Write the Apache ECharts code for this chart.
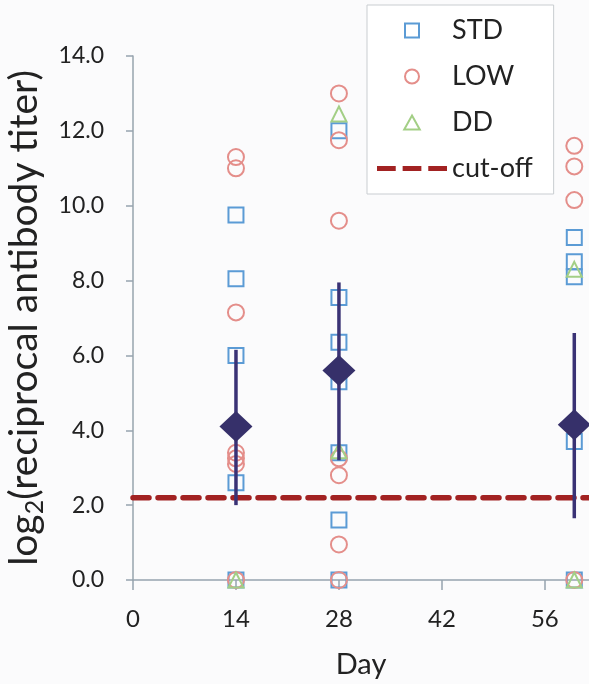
<!DOCTYPE html>
<html>
<head>
<meta charset="utf-8">
<script src="https://cdn.jsdelivr.net/npm/echarts@6/dist/echarts.min.js"></script>
<style>
    html, body { margin: 0; padding: 0; background: #fbfbfc; }
    #chart { width: 589px; height: 684px; }
</style>
</head>
<body>
<div id="chart"></div>
<script>
// individual titers per group, as [day, log2 titer]
const stdPoints = [
    [14, 9.75], [14, 8.05], [14, 6.0], [14, 2.6], [14, 0],
    [28, 12.0], [28, 7.55], [28, 6.35], [28, 5.3], [28, 3.4], [28, 1.6], [28, 0],
    [60, 9.15], [60, 8.5], [60, 8.1], [60, 3.7], [60, 0]
];
const lowPoints = [
    [14, 11.3], [14, 11.0], [14, 7.15], [14, 3.4], [14, 3.25], [14, 3.1], [14, 0],
    [28, 13.0], [28, 11.75], [28, 9.6], [28, 3.25], [28, 2.8], [28, 0.95], [28, 0],
    [60, 11.6], [60, 11.05], [60, 10.15], [60, 0]
];
const ddPoints = [
    [14, 0],
    [28, 12.45], [28, 3.45],
    [60, 8.3], [60, 0]
];
// mean with error bar
const meanDays = [14, 28, 60];
const meanValues = [4.1, 5.6, 4.15];
const barLow = [2.0, 3.2, 1.65];
const barHigh = [6.15, 7.95, 6.6];
const cutoff = 2.2;
const xTicks = [0, 14, 28, 42, 56];

const font = 'Lato, "Open Sans", sans-serif';
const axisColor = '#97a4ae';
const cutColor = '#a22222';

let chart = echarts.init(document.getElementById('chart'));

let meanData = meanDays.map((d, i) => [d, meanValues[i]]);
let errData = meanDays.map((d, i) => [d, barLow[i], barHigh[i]]);

let options = {
    backgroundColor: '#fbfbfc',
    animation: false,
    grid: {
        left: 133,
        right: 0,
        top: 56,
        bottom: 104,
        containLabel: false,
        outerBoundsMode: 'none'
    },
    legend: {
        orient: 'vertical',
        left: 367,
        top: 5,
        padding: [12, 21, 12, 10],
        itemGap: 19,
        itemWidth: 70,
        itemHeight: 14,
        itemTextGap: 6,
        borderColor: '#c9cdd1',
        borderWidth: 1,
        backgroundColor: '#ffffff',
        textStyle: { fontFamily: font, fontSize: 27, color: '#222' },
        data: [
            { name: 'STD', icon: 'path://M0,0L10,0L10,10L0,10Z' },
            { name: 'LOW', icon: 'path://M0,5A5,5 0 1,1 10,5A5,5 0 1,1 0,5Z' },
            { name: 'DD', icon: 'path://M5,0L10,9L0,9Z' },
            {
                name: 'cut-off',
                icon: 'path://M0,0L19,0L19,5L0,5Z M26,0L45,0L45,5L26,5Z M52,0L71,0L71,5L52,5Z',
                itemStyle: { color: cutColor, borderWidth: 0 }
            }
        ]
    },
    xAxis: {
        type: 'value',
        min: 0,
        max: 62,
        name: 'Day',
        nameLocation: 'middle',
        nameGap: 70,
        nameTextStyle: { fontFamily: font, fontSize: 29, color: '#222' },
        axisLine: { lineStyle: { color: axisColor, width: 1.5 } },
        axisTick: { show: true, inside: false, length: 10, customValues: xTicks, lineStyle: { color: axisColor, width: 1.5 } },
        axisLabel: { customValues: xTicks, margin: 27, fontFamily: font, fontSize: 24, color: '#222' },
        splitLine: { show: false }
    },
    yAxis: {
        type: 'value',
        min: 0,
        max: 14,
        interval: 2,
        name: '{a|log}{s|2}{a|(reciprocal antibody titer)}',
        nameLocation: 'middle',
        nameGap: 80,
        nameTextStyle: {
            rich: {
                a: { fontFamily: font, fontSize: 39, color: '#222', lineHeight: 46 },
                s: { fontFamily: font, fontSize: 25, color: '#222', lineHeight: 46, verticalAlign: 'bottom' }
            }
        },
        axisLine: { show: true, lineStyle: { color: axisColor, width: 1.5 } },
        axisTick: { show: true, length: 7, lineStyle: { color: axisColor, width: 1.5 } },
        axisLabel: {
            margin: 29,
            fontFamily: font,
            fontSize: 23,
            color: '#222',
            formatter: v => v.toFixed(1)
        },
        splitLine: { show: false }
    },
    series: [
        {
            name: 'cut-off',
            type: 'line',
            symbol: 'none',
            data: [[0, cutoff], [62, cutoff]],
            lineStyle: { color: cutColor, width: 5.5, type: [16, 9], cap: 'round' },
            itemStyle: { color: cutColor },
            z: 1
        },
        {
            name: 'error',
            type: 'custom',
            data: errData,
            renderItem: (params, api) => {
                let top = api.coord([api.value(0), api.value(2)]);
                let bottom = api.coord([api.value(0), api.value(1)]);
                return {
                    type: 'line',
                    shape: { x1: top[0], y1: top[1], x2: bottom[0], y2: bottom[1] },
                    style: { stroke: '#3a3275', lineWidth: 3.5 }
                };
            },
            z: 3
        },
        {
            name: 'STD',
            type: 'scatter',
            symbol: 'rect',
            symbolSize: 15,
            data: stdPoints,
            itemStyle: { color: 'transparent', borderColor: '#5b9bd5', borderWidth: 2, opacity: 1 },
            z: 2
        },
        {
            name: 'LOW',
            type: 'scatter',
            symbol: 'circle',
            symbolSize: 16,
            data: lowPoints,
            itemStyle: { color: 'transparent', borderColor: '#e48e8a', borderWidth: 2, opacity: 1 },
            z: 2
        },
        {
            name: 'DD',
            type: 'scatter',
            symbol: 'triangle',
            symbolSize: 15,
            data: ddPoints,
            itemStyle: { color: 'transparent', borderColor: '#a3cf86', borderWidth: 2, opacity: 1 },
            z: 2
        },
        {
            name: 'mean',
            type: 'scatter',
            symbol: 'diamond',
            symbolSize: [33, 31],
            data: meanData,
            itemStyle: { color: '#36306a', opacity: 1 },
            z: 4
        }
    ]
};

chart.setOption(options);
</script>
</body>
</html>
